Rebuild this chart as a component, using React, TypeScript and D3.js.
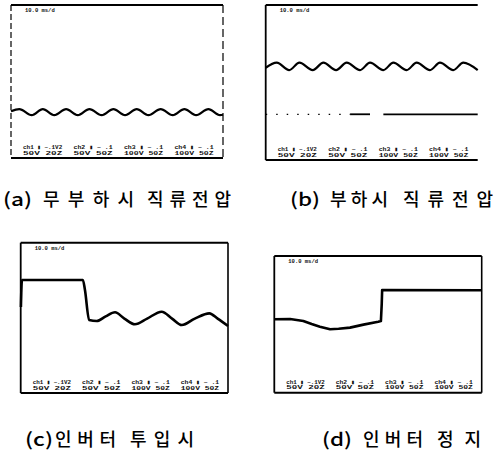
import React from "react";
import * as d3 from "d3";

// ---- data (screen percent: time 0..100 across, level 0..100 up) ----
const captions = ["(a) 무부하시 직류전압", "(b) 부하시 직류전압", "(c)인버터 투입시", "(d) 인버터 정지"];

const topLabels = ["10.0 ms/d", "10.0 ms/d", "10.0 ms/d", "10.0 ms/d"];
const chLabels = ["ch1 ▮ ~.1V2", "ch2 ▮ ~ .1", "ch3 ▮ ~ .1", "ch4 ▮ ~ .1"];
const rangeLabels = ["50V  20Z", "50V  50Z", "100V 50Z", "100V 50Z"];

const waveA: [number, number][] = [
  [0, 30.5], [3.9, 32], [9.8, 28], [15, 32], [20.4, 28], [26, 32], [31.5, 28],
  [37, 32], [42.8, 28], [48.3, 32], [53.8, 28], [59.3, 32], [64.8, 28],
  [70.6, 32], [76.3, 28], [81.8, 32], [87.3, 28], [93.1, 32], [98.6, 28], [100, 28.3],
];

const waveB: [number, number][] = [
  [0, 59.5], [5.2, 62.8], [11.1, 58], [15.9, 62.8], [22.2, 58], [27.2, 62.8],
  [33.2, 58], [38.2, 62.8], [44.5, 58], [49.2, 62.8], [55.5, 58], [60.2, 62.8],
  [66.5, 58], [71.2, 62.8], [77.5, 58], [82.2, 62.8], [88.5, 58], [93.2, 62.8], [100, 58],
];
const lowerB: [number, number][][] = [
  [[39.8, 29.5], [49.2, 29.5]],
  [[55.5, 29.5], [100, 29.5]],
];
const lowerBDots: [number, number][] = [[0, 29.5], [39.8, 29.5]];

const waveC: [number, number][] = [
  [0.1, 57.2], [0.6, 75.2], [30, 75.2], [31, 68.5], [33, 48.6], [36.7, 47.9],
  [41, 51], [45.5, 53.7], [50, 49.5], [55.1, 45.7], [61, 49.5], [68, 54.1],
  [73, 49.5], [77.7, 45.2], [84, 49.5], [91, 53], [95, 49.5], [100, 44.6],
];

const waveD: [number, number][] = [
  [0, 53.7], [7.6, 53.9], [14, 52.5], [18, 50.3], [22, 48.3], [26.9, 46.4],
  [31, 46.8], [36.5, 47.6], [43, 49.8], [50.1, 51.9], [51.4, 52.4],
  [51.8, 65], [52, 75.1], [100, 75],
];

// ---- layout ----
type Box = { l: number; r: number; t: number; b: number };
const boxes: Box[] = [
  { l: 11, r: 223, t: 5, b: 158 },
  { l: 265.7, r: 477.7, t: 5, b: 160 },
  { l: 20.7, r: 228, t: 242.7, b: 393 },
  { l: 274.3, r: 481.7, t: 256, b: 392.7 },
];
// per-word [x, width] for each caption, plus baseline
const capWords: { y: number; spans: [number, number][] }[] = [
  { y: 206, spans: [[3, 29], [43, 91], [147, 84]] },
  { y: 206, spans: [[290, 30], [330, 58], [403, 90]] },
  { y: 446, spans: [[25, 28], [55, 61], [130, 64]] },
  { y: 446, spans: [[322, 30], [363, 60], [437, 44]] },
];

function Panel({ box, idx, children }: { box: Box; idx: number; children: (x: any, y: any) => React.ReactNode }) {
  const x = d3.scaleLinear().domain([0, 100]).range([box.l, box.r]);
  const y = d3.scaleLinear().domain([0, 100]).range([box.b, box.t]);
  const w = box.r - box.l;
  const fontMono = "'Liberation Mono', 'DejaVu Sans Mono', monospace";
  const noRight = idx === 1;
  return (
    <g>
      <line x1={box.l} x2={box.r} y1={box.t} y2={box.t} stroke="#000" strokeWidth={2} />
      <line x1={box.l} x2={box.r} y1={box.b} y2={box.b} stroke="#000" strokeWidth={2} />
      <line x1={box.l} x2={box.l} y1={box.t} y2={box.b} stroke="#000" strokeWidth={idx === 0 ? 1.2 : 1.8}
        strokeDasharray={idx === 0 ? "6 3" : undefined} />
      {!noRight && (
        <line x1={box.r} x2={box.r} y1={box.t} y2={box.b} stroke="#000" strokeWidth={idx === 0 ? 1.2 : 1.6}
          strokeDasharray={idx === 0 ? "8 4" : undefined} />
      )}
      <text x={box.l + 14} y={box.t + 7} fontFamily={fontMono} fontSize={5.5} fontWeight="bold" fill="#111">
        {topLabels[idx]}
      </text>
      {chLabels.map((c, i) => (
        <g key={i}>
          <text x={box.l + 12 + (i * w) / 4.2} y={box.b - 9} fontFamily={fontMono} fontSize={6} fontWeight="bold"
            fill="#111" textLength={w / 5.4} lengthAdjust="spacingAndGlyphs">{c}</text>
          <text x={box.l + 12 + (i * w) / 4.2} y={box.b - 3.5} fontFamily={fontMono} fontSize={6} fontWeight="bold"
            fill="#111" textLength={w / 5.4} lengthAdjust="spacingAndGlyphs">{rangeLabels[i]}</text>
        </g>
      ))}
      {children(x, y)}
    </g>
  );
}

export default function App() {
  const mkLine = (x: any, y: any, curve: any) =>
    d3.line<[number, number]>().x((d) => x(d[0])).y((d) => y(d[1])).curve(curve);
  const capFont = "'Noto Sans CJK KR', 'Noto Sans', sans-serif";
  return (
    <svg width={499} height={456} style={{ position: "absolute", left: 0, top: 0, background: "#fff" }}>
      <rect width={499} height={456} fill="#fff" />
      <Panel box={boxes[0]} idx={0}>
        {(x, y) => <path d={mkLine(x, y, d3.curveMonotoneX)(waveA) || ""} fill="none" stroke="#000" strokeWidth={2.2} />}
      </Panel>
      <Panel box={boxes[1]} idx={1}>
        {(x, y) => (
          <g>
            <path d={mkLine(x, y, d3.curveMonotoneX)(waveB) || ""} fill="none" stroke="#000" strokeWidth={2.2} />
            {lowerB.map((s, i) => (
              <path key={i} d={mkLine(x, y, d3.curveLinear)(s) || ""} fill="none" stroke="#000" strokeWidth={1.8} />
            ))}
            <path d={mkLine(x, y, d3.curveLinear)(lowerBDots) || ""} fill="none" stroke="#000" strokeWidth={1.2}
              strokeDasharray="1.5 9" />
          </g>
        )}
      </Panel>
      <Panel box={boxes[2]} idx={2}>
        {(x, y) => <path d={mkLine(x, y, d3.curveMonotoneX)(waveC) || ""} fill="none" stroke="#000" strokeWidth={2.6} strokeLinejoin="round" />}
      </Panel>
      <Panel box={boxes[3]} idx={3}>
        {(x, y) => <path d={mkLine(x, y, d3.curveLinear)(waveD) || ""} fill="none" stroke="#000" strokeWidth={2.6} strokeLinejoin="round" />}
      </Panel>
      {captions.map((c, i) => {
        const words = c.replace(")", ") ").split(/\s+/).filter(Boolean);
        return (
          <text key={i} y={capWords[i].y} fontFamily={capFont} fontSize={18} fontWeight={500} fill="#000">
            {words.map((wd, j) => (
              <tspan key={j} x={capWords[i].spans[j][0]} textLength={capWords[i].spans[j][1]}
                lengthAdjust={j === 0 ? "spacingAndGlyphs" : "spacing"}>
                {wd}
              </tspan>
            ))}
          </text>
        );
      })}
    </svg>
  );
}
